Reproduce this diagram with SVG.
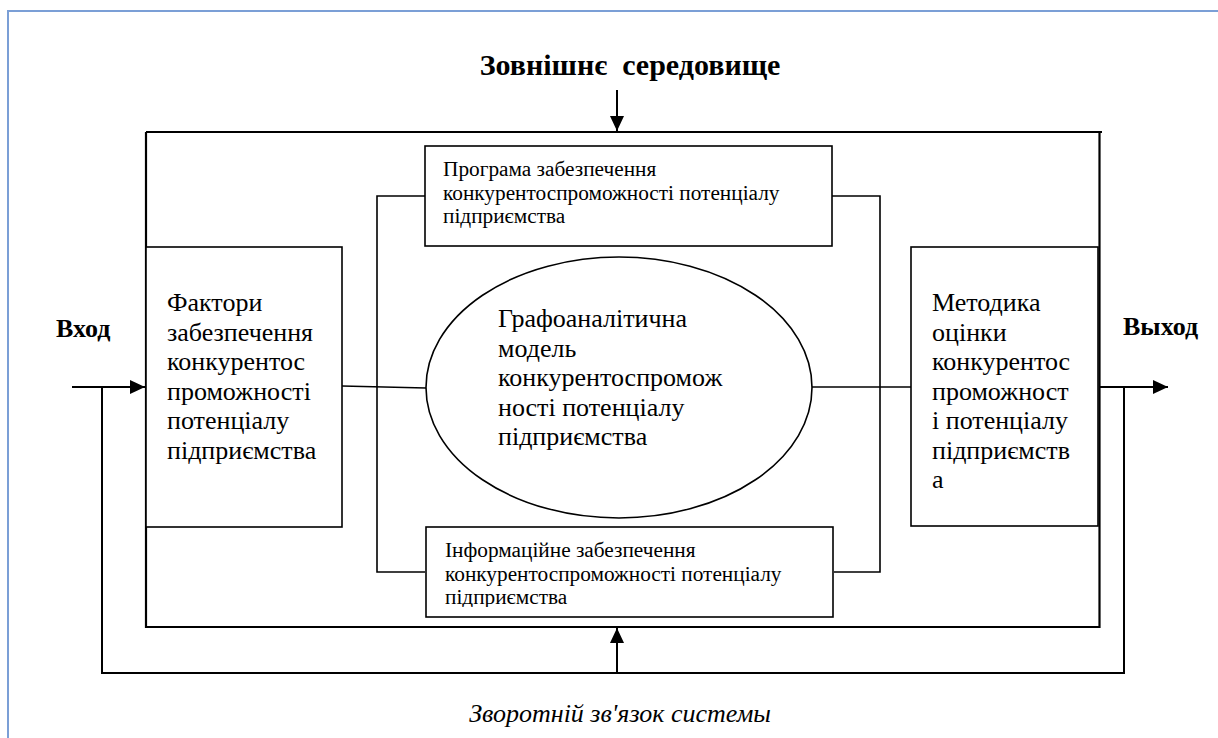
<svg xmlns="http://www.w3.org/2000/svg" width="1218" height="738" viewBox="0 0 1218 738" font-family="'Liberation Serif', 'DejaVu Serif', serif">
<style>
.bg{fill:#ffffff}
.page{fill:none;stroke:#7b9fd6;stroke-width:2}
.box{fill:#ffffff;stroke:#000;stroke-width:1.6}
.outer{fill:none;stroke:#000;stroke-width:2.2}
.ln{fill:none;stroke:#000;stroke-width:1.6}
.fb{fill:none;stroke:#000;stroke-width:2}
text{font-family:'Liberation Serif','DejaVu Serif',serif;fill:#000}
.big{font-size:26px}
.small{font-size:21.3px}
.bold{font-weight:bold}
</style>
<defs>
<marker id="ah" markerUnits="userSpaceOnUse" markerWidth="16" markerHeight="14" refX="15" refY="7" orient="auto">
<path d="M0,0 L15,7 L0,14 Z" fill="#000"/>
</marker>
<clipPath id="infoClip"><rect x="426" y="528" width="407" height="79"/></clipPath>
</defs>
<rect class="bg" x="0" y="0" width="1218" height="738"/>
<path class="page" d="M8,738 V11 H1218"/>

<g id="title">
<text class="bold" x="630" y="75" font-size="30" text-anchor="middle" xml:space="preserve">Зовнішнє  середовище</text>
</g>

<g id="system">
<path class="outer" d="M146,132 H1102 M1099.5,132 V627 H146 V132"/>
</g>

<g id="connectors">
<line class="fb" x1="617" y1="90" x2="617" y2="131" marker-end="url(#ah)"/>
<line class="fb" x1="72" y1="387" x2="145" y2="387" marker-end="url(#ah)"/>
<line class="fb" x1="1100" y1="387" x2="1168" y2="387" marker-end="url(#ah)"/>
<path class="fb" d="M1124,387 V673 H102 V387"/>
<line class="fb" x1="617" y1="673" x2="617" y2="628" marker-end="url(#ah)"/>
<line class="ln" x1="342" y1="386" x2="426" y2="388"/>
<line class="ln" x1="812" y1="387" x2="911" y2="387"/>
<path class="ln" d="M425,196 H377 V572 H425"/>
<path class="ln" d="M832,196 H880 V572 H834"/>
</g>

<g id="factors">
<rect class="box" x="146" y="247" width="196" height="280"/>
<text class="big">
<tspan x="167" y="311">Фактори</tspan>
<tspan x="167" y="340.5">забезпечення</tspan>
<tspan x="167" y="370">конкурентос</tspan>
<tspan x="167" y="399.5">проможності</tspan>
<tspan x="167" y="429">потенціалу</tspan>
<tspan x="167" y="458.5">підприємства</tspan>
</text>
</g>

<g id="program">
<rect class="box" x="425" y="146" width="407" height="100"/>
<text class="small">
<tspan x="443" y="176">Програма забезпечення</tspan>
<tspan x="443" y="199.5">конкурентоспроможності потенціалу</tspan>
<tspan x="443" y="223">підприємства</tspan>
</text>
</g>

<g id="model">
<ellipse class="box" cx="619" cy="387.5" rx="193" ry="130.5"/>
<text class="big">
<tspan x="498" y="327">Графоаналітична</tspan>
<tspan x="498" y="356.5">модель</tspan>
<tspan x="498" y="386">конкурентоспромож</tspan>
<tspan x="498" y="415.5">ності потенціалу</tspan>
<tspan x="498" y="445">підприємства</tspan>
</text>
</g>

<g id="info">
<rect class="box" x="426" y="527" width="407" height="90"/>
<text class="small" clip-path="url(#infoClip)">
<tspan x="445" y="557">Інформаційне забезпечення</tspan>
<tspan x="445" y="580.5">конкурентоспроможності потенціалу</tspan>
<tspan x="445" y="604">підприємства</tspan>
</text>
</g>

<g id="method">
<rect class="box" x="911" y="247" width="187" height="279"/>
<text class="big">
<tspan x="932" y="311">Методика</tspan>
<tspan x="932" y="340.5">оцінки</tspan>
<tspan x="932" y="370">конкурентос</tspan>
<tspan x="932" y="399.5">проможност</tspan>
<tspan x="932" y="429">і потенціалу</tspan>
<tspan x="932" y="458.5">підприємств</tspan>
<tspan x="932" y="488">а</tspan>
</text>
</g>

<g id="input-label">
<text class="bold" x="56" y="337" font-size="26">Вход</text>
</g>
<g id="output-label">
<text class="bold" x="1123" y="335" font-size="26">Выход</text>
</g>
<g id="feedback-label">
<text x="620" y="722" font-size="26" font-style="italic" text-anchor="middle">Зворотній зв'язок системы</text>
</g>
</svg>
